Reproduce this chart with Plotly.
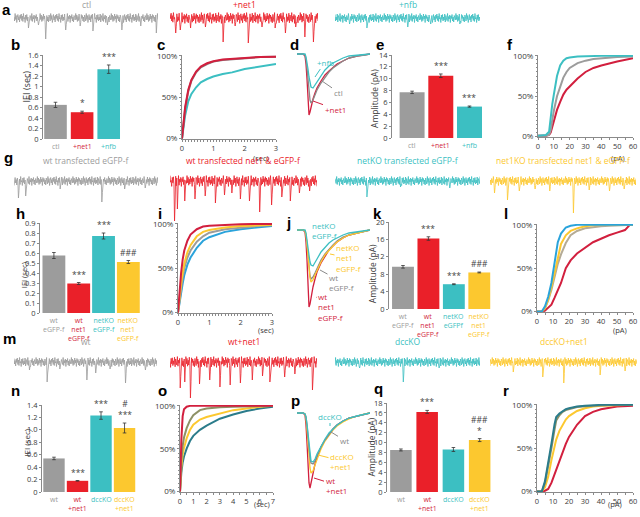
import plotly.graph_objects as go

W, H = 640, 517

GRAY = "#9c9c9c"
RED = "#ea2029"
CRIMSON = "#d21f3e"
TEAL = "#3cbfc2"
YELLOW = "#fcc82f"
BLUE = "#2aa3db"
DKTEAL = "#2b7c8b"
OLIVE = "#8d9166"
TAN = "#b5ab95"
AXC = "#8a8a8a"
TXT = "#3a3a3a"
FONT = "Open Sans"

# ---------------- data ----------------
NOISE = [0.2, -0.6, 0.9, -0.3, 0.5, -0.9, 0.1, 0.7, -0.4, 0.3, -0.8, 0.6, -0.1, 0.8, -0.5, 0.4,
         -0.7, 0.9, -0.2, 0.1, -0.9, 0.6, -0.3, 0.7, -0.6, 0.2, -0.4, 0.8, -0.8, 0.5, 0.0, -0.5,
         0.9, -0.7, 0.3, -0.2, 0.6, -0.9, 0.4, -0.1, 0.7, -0.6, 0.2, -0.8, 0.5, 0.1, -0.4, 0.9,
         -0.3, 0.6, -0.7, 0.3, -0.5, 0.8, -0.2, 0.4, -0.9, 0.7, -0.1, 0.5, -0.6, 0.2, -0.8, 0.6]

# recordings: spike positions (fraction of trace) and depths
A_CTL_POS = [0.10, 0.17, 0.22, 0.36, 0.46, 0.55, 0.65, 0.75, 0.88, 0.99]
A_CTL_DEP = [10, 7, 21, 12, 8, 13, 7, 12, 8, 15]
A_NET_POS = [0.04, 0.07, 0.14, 0.24, 0.36, 0.44, 0.53, 0.62, 0.71, 0.78, 0.85, 0.91, 0.97]
A_NET_DEP = [15, 12, 10, 9, 24, 8, 25, 9, 10, 15, 9, 19, 24]
A_NFB_POS = [0.10, 0.22, 0.50, 0.66, 0.86]
A_NFB_DEP = [6, 10, 9, 6, 6]

G_WT_POS = [0.03, 0.08, 0.32, 0.61, 0.77, 0.91]
G_WT_DEP = [17, 15, 8, 21, 8, 7]
G_NET_POS = [0.03, 0.05, 0.10, 0.17, 0.24, 0.31, 0.37, 0.42, 0.48, 0.54, 0.61, 0.69, 0.76, 0.82, 0.88, 0.95]
G_NET_DEP = [40, 28, 20, 18, 15, 22, 14, 12, 18, 20, 31, 24, 16, 20, 12, 10]
G_KO_POS = [0.22, 0.45, 0.79]
G_KO_DEP = [16, 6, 7]
G_KONET_POS = [0.03, 0.12, 0.20, 0.31, 0.41, 0.57, 0.68, 0.82, 0.92]
G_KONET_DEP = [12, 19, 10, 8, 10, 32, 9, 10, 8]

M_WT_POS = [0.11, 0.23, 0.32, 0.51, 0.57, 0.67, 0.78, 0.92]
M_WT_DEP = [8, 20, 7, 18, 11, 7, 21, 8]
M_NET_POS = [0.07, 0.10, 0.14, 0.20, 0.27, 0.34, 0.41, 0.48, 0.56, 0.63, 0.68, 0.78, 0.85, 0.97]
M_NET_DEP = [26, 20, 36, 22, 18, 25, 23, 21, 18, 14, 20, 15, 12, 28]
M_DCC_POS = [0.17, 0.47, 0.72]
M_DCC_DEP = [6, 20, 6]
M_DCCNET_POS = [0.16, 0.36, 0.50, 0.75, 0.92]
M_DCCNET_DEP = [10, 15, 21, 13, 9]

# bar charts
B_CATS = ["ctl", "+net1", "+nfb"]
B_IEI = [0.65, 0.51, 1.33]
B_ERR = [0.05, 0.02, 0.08]
B_SIG = ["", "*", "***"]
E_AMP = [7.7, 10.5, 5.3]
E_ERR = [0.2, 0.3, 0.1]
E_SIG = ["", "***", "***"]

H_CATS = ["wt<br>eGFP-f", "wt<br>net1<br>eGFP-f", "netKO<br>eGFP-f", "netKO<br>net1<br>eGFP-f"]
H_IEI = [0.575, 0.295, 0.77, 0.51]
H_ERR = [0.03, 0.01, 0.03, 0.015]
H_SIG = ["", "***", "***", "###"]
K_CATS = ["wt<br>eGFP-f", "wt<br>net1<br>eGFP-f", "netKO<br>eGFPf", "netKO<br>net1<br>eGFP-f"]
K_AMP = [9.7, 16.2, 5.7, 8.4]
K_ERR = [0.3, 0.4, 0.1, 0.1]
K_SIG = ["", "***", "***", "###"]

N_CATS = ["wt", "wt<br>+net1", "dccKO", "dccKO<br>+net1"]
N_IEI = [0.54, 0.18, 1.23, 1.03]
N_ERR = [0.02, 0.005, 0.06, 0.08]
N_SIG = ["", "***", "***", "#<br>***"]
Q_AMP = [8.5, 16.2, 8.6, 10.5]
Q_ERR = [0.2, 0.3, 0.4, 0.3]
Q_SIG = ["", "***", "", "###<br>*"]

# cumulative distributions
C_T = [0, 0.05, 0.1, 0.2, 0.3, 0.45, 0.6, 0.8, 1.0, 1.3, 1.6, 2.0, 2.5, 3.0]
C_CTL = [0, 0.2, 0.36, 0.57, 0.7, 0.8, 0.86, 0.9, 0.93, 0.95, 0.96, 0.975, 0.985, 0.99]
C_NET = [0, 0.22, 0.38, 0.59, 0.71, 0.81, 0.87, 0.91, 0.935, 0.955, 0.965, 0.978, 0.987, 0.99]
C_NFB = [0, 0.15, 0.28, 0.45, 0.54, 0.62, 0.68, 0.72, 0.75, 0.78, 0.8, 0.84, 0.87, 0.9]

F_X = [0, 5, 7, 8, 9, 10, 12, 14, 16, 18, 20, 25, 30, 35, 40, 50, 60]
F_CTL = [0.01, 0.01, 0.02, 0.08, 0.2, 0.32, 0.5, 0.63, 0.73, 0.8, 0.85, 0.91, 0.94, 0.96, 0.97, 0.985, 0.99]
F_NET = [0.01, 0.01, 0.02, 0.05, 0.12, 0.2, 0.33, 0.43, 0.52, 0.58, 0.62, 0.72, 0.8, 0.85, 0.88, 0.93, 0.97]
F_NFB = [0.01, 0.02, 0.06, 0.25, 0.4, 0.52, 0.75, 0.88, 0.94, 0.97, 0.98, 0.99, 0.995, 1, 1, 1, 1]

I_T = [0, 0.05, 0.1, 0.15, 0.2, 0.3, 0.4, 0.6, 0.8, 1.0, 1.5, 2.0, 2.5, 3.0]
I_WTNET = [0, 0.25, 0.45, 0.6, 0.7, 0.81, 0.88, 0.94, 0.97, 0.98, 0.99, 0.995, 1.0, 1.0]
I_KONET = [0, 0.18, 0.33, 0.45, 0.55, 0.68, 0.76, 0.86, 0.91, 0.93, 0.96, 0.975, 0.985, 0.99]
I_WT = [0, 0.15, 0.28, 0.4, 0.5, 0.62, 0.7, 0.8, 0.86, 0.9, 0.94, 0.96, 0.975, 0.985]
I_KO = [0, 0.12, 0.23, 0.33, 0.42, 0.54, 0.62, 0.73, 0.81, 0.85, 0.91, 0.94, 0.96, 0.975]

L_X = [0, 3, 5, 7, 9, 11, 13, 15, 18, 21, 25, 30, 35, 40, 45, 50, 55, 58, 60]
L_KO = [0, 0, 0.06, 0.17, 0.33, 0.55, 0.8, 0.9, 0.97, 0.99, 1, 1, 1, 1, 1, 1, 1, 1, 1]
L_KONET = [0, 0, 0.04, 0.14, 0.28, 0.45, 0.63, 0.78, 0.88, 0.93, 0.96, 0.985, 0.995, 1, 1, 1, 1, 1, 1]
L_WT = [0, 0, 0.04, 0.13, 0.25, 0.4, 0.55, 0.66, 0.79, 0.88, 0.93, 0.96, 0.975, 0.985, 0.99, 0.995, 1, 1, 1]
L_WTNET = [0, 0, 0.01, 0.04, 0.08, 0.16, 0.25, 0.33, 0.5, 0.59, 0.67, 0.74, 0.8, 0.84, 0.88, 0.91, 0.94, 1.0, 1.0]

O_T = [0, 0.05, 0.1, 0.2, 0.3, 0.5, 0.75, 1.0, 1.5, 2.0, 2.5, 3.0, 4.0, 5.0, 6.0, 7.0]
O_WTNET = [0, 0.35, 0.6, 0.88, 0.96, 0.99, 1, 1, 1, 1, 1, 1, 1, 1, 1, 1]
O_WT = [0, 0.2, 0.36, 0.53, 0.63, 0.74, 0.83, 0.89, 0.95, 0.97, 0.98, 0.985, 0.99, 0.995, 1, 1]
O_DCCNET = [0, 0.16, 0.28, 0.43, 0.51, 0.62, 0.72, 0.78, 0.84, 0.87, 0.89, 0.91, 0.95, 0.97, 0.99, 1]
O_DCC = [0, 0.12, 0.22, 0.34, 0.41, 0.5, 0.59, 0.65, 0.72, 0.77, 0.81, 0.85, 0.9, 0.94, 0.97, 0.99]

R_X = [0, 3, 5, 7, 9, 11, 12, 14, 16, 18, 20, 25, 30, 35, 40, 50, 60]
R_DCC = [0, 0, 0.12, 0.32, 0.55, 0.78, 0.86, 0.9, 0.93, 0.95, 0.96, 0.98, 0.99, 0.995, 1, 1, 1]
R_WT = [0, 0, 0.1, 0.28, 0.5, 0.72, 0.82, 0.88, 0.92, 0.94, 0.95, 0.975, 0.985, 0.99, 0.995, 1, 1]
R_DCCNET = [0, 0, 0.05, 0.17, 0.36, 0.53, 0.6, 0.7, 0.77, 0.83, 0.87, 0.93, 0.96, 0.98, 0.99, 0.995, 1]
R_WTNET = [0, 0, 0.01, 0.03, 0.1, 0.2, 0.25, 0.36, 0.46, 0.55, 0.63, 0.77, 0.87, 0.92, 0.95, 0.98, 0.99]

# averaged events (time in 0.5 ms steps, amplitude)
WAVE_T = [0, 3, 4, 4.5, 5, 5.5, 6, 6.5, 7, 8, 9, 10, 12, 14, 16, 18, 20, 23, 26, 30, 34, 36.5]
D_NET = [0, 0, -2, -10, -25, -45, -61, -58, -53, -45, -39, -34, -27, -21, -17, -13, -10, -7, -4, -2, -1, 0]
D_CTL = [0, 0, -1, -5, -14, -26, -38, -46, -49, -46, -41, -36, -29, -23, -18, -14, -11, -7, -4, -2, -1, 0]
D_NFB = [0, 0, 0, -3, -8, -15, -23, -30, -33, -34, -31, -27, -21, -16, -12, -9, -7, -4, -2, -1, 0, 0]
J_WTNET = [0, 0, -2, -12, -30, -55, -77, -74, -67, -57, -49, -42, -33, -26, -20, -16, -12, -8, -5, -3, -1, 0]
J_KONET = [0, 0, -1, -5, -15, -28, -40, -48, -52, -50, -45, -40, -32, -25, -20, -16, -12, -8, -5, -3, -1, 0]
J_WT = [0, 0, -1, -5, -14, -27, -38, -46, -49, -47, -43, -38, -30, -24, -19, -15, -11, -7, -5, -3, -1, 0]
J_KO = [0, 0, 0, -3, -9, -17, -25, -32, -35, -36, -33, -29, -22, -17, -13, -10, -8, -5, -3, -2, -1, 0]
P_WTNET = [0, 0, -2, -12, -30, -52, -70, -75, -70, -60, -51, -44, -34, -27, -21, -16, -12, -8, -5, -3, -1, 0]
P_DCCNET = [0, 0, -1, -6, -17, -32, -45, -55, -60, -58, -52, -46, -36, -28, -22, -17, -13, -9, -6, -3, -1, 0]
P_WT = [0, 0, -1, -4, -12, -24, -35, -45, -50, -51, -48, -43, -34, -27, -21, -16, -12, -8, -5, -3, -1, 0]
P_DCC = [0, 0, -1, -4, -11, -22, -33, -43, -48, -49, -46, -41, -33, -26, -20, -16, -12, -8, -5, -3, -1, 0]

# ---------------- figure helpers ----------------
layout = dict(template="none", width=W, height=H, margin=dict(l=0, r=0, t=0, b=0, pad=0),
              paper_bgcolor="white", plot_bgcolor="white", showlegend=False,
              font=dict(family=FONT, color=TXT))
ann = []
data = []
cnt = [0]


def axes(left, right, top, bottom, xr, yr):
    cnt[0] += 1
    s = "" if cnt[0] == 1 else str(cnt[0])
    layout["xaxis" + s] = dict(domain=[max(0, left / W), min(1, right / W)], range=xr,
                               anchor="y" + s, visible=False, fixedrange=True, automargin=False)
    layout["yaxis" + s] = dict(domain=[max(0, 1 - bottom / H), min(1, 1 - top / H)], range=yr,
                               anchor="x" + s, visible=False, fixedrange=True, automargin=False)
    return s


def letter(t, x, y):
    ann.append(dict(text="<b>%s</b>" % t, x=x / W, y=1 - y / H, xref="paper", yref="paper",
                    showarrow=False, font=dict(family="Liberation Sans", size=15, color="black"),
                    xanchor="center", yanchor="middle"))


def recording(x0, x1, yc, yr, pos, dep, amp, offset, color, label, label_y, n=260):
    s = axes(x0, x1, yc - yr[1], yc - yr[0], [0, n - 1], yr)
    ys = [amp * NOISE[(i + offset) % len(NOISE)] for i in range(n)]
    for p, d in zip(pos, dep):
        k = int(round(p * (n - 1)))
        ys[k] = -d
        if k + 1 < n:
            ys[k + 1] = -0.55 * d
    data.append(go.Scatter(x=list(range(n)), y=ys, mode="lines", line=dict(color=color, width=0.8),
                           xaxis="x" + s, yaxis="y" + s, hoverinfo="skip"))
    ann.append(dict(text=label, x=0.5, xref="x%s domain" % s, y=1 - label_y / H, yref="paper",
                    showarrow=False, font=dict(size=8.5, color=color), yanchor="middle"))


def bar_panel(box, xr, yr, vals, errs, colors, labcolors, cats, sigs, tickvals, ticktext,
              bw, ylabel, ylab_x, ylab_frac, ylab_size):
    s = axes(*box, xr, yr)
    xs = list(range(len(vals)))
    data.append(go.Bar(x=xs, y=vals, width=bw, marker=dict(color=colors, line=dict(width=0)),
                       error_y=dict(type="data", array=errs, color="#333333", thickness=0.8, width=1.8),
                       xaxis="x" + s, yaxis="y" + s, hoverinfo="skip"))
    layout["yaxis" + s].update(visible=True, showline=True, linecolor=AXC, linewidth=1,
                               ticks="outside", ticklen=2, tickcolor=AXC, showgrid=False,
                               zeroline=False, tickmode="array", tickvals=tickvals, ticktext=ticktext,
                               tickfont=dict(size=7.5, color=TXT))
    for i in xs:
        if sigs[i]:
            ann.append(dict(text=sigs[i], x=i, y=vals[i] + errs[i], xref="x" + s, yref="y" + s,
                            yanchor="bottom", yshift=1, showarrow=False,
                            font=dict(size=8.5, color="#444444")))
        ann.append(dict(text=cats[i], x=i, y=0, xref="x" + s, yref="y" + s, yanchor="top",
                        yshift=-1, showarrow=False, font=dict(size=7, color=labcolors[i])))
    ann.append(dict(text=ylabel, x=ylab_x / W, y=ylab_frac, xref="paper", yref="y%s domain" % s,
                    textangle=-90, showarrow=False, font=dict(size=ylab_size, color=TXT)))


def cdf_panel(box, xr, xdtick, xminor, curves, unit, unit_xy):
    s = axes(*box, xr, [-0.005, 1.01])
    for xv, yv, col in curves:
        data.append(go.Scatter(x=xv, y=yv, mode="lines", line=dict(color=col, width=2),
                               xaxis="x" + s, yaxis="y" + s, hoverinfo="skip"))
    layout["xaxis" + s].update(visible=True, showline=True, linecolor=AXC, linewidth=1,
                               ticks="outside", ticklen=1.5, tickcolor=AXC, tick0=0, dtick=xdtick,
                               showgrid=False, zeroline=False, tickfont=dict(size=7.5, color=TXT),
                               minor=dict(dtick=xminor, ticks="outside", ticklen=1.5, tickcolor=AXC))
    layout["yaxis" + s].update(visible=True, showline=True, linecolor=AXC, linewidth=1,
                               ticks="outside", ticklen=2, tickcolor=AXC, tick0=0, dtick=0.5,
                               tickformat=".0%", showgrid=False, zeroline=False,
                               tickfont=dict(size=8, color=TXT),
                               minor=dict(dtick=0.05, ticks="outside", ticklen=1.5, tickcolor=AXC))
    ann.append(dict(text=unit, x=unit_xy[0] / W, y=1 - unit_xy[1] / H, xref="paper", yref="paper",
                    showarrow=False, font=dict(size=7.5, color=TXT)))


def wave_panel(box, yr, curves, labels):
    s = axes(*box, [0, 36.5], yr)
    for yv, col in curves:
        data.append(go.Scatter(x=WAVE_T, y=yv, mode="lines", line=dict(color=col, width=1.3),
                               xaxis="x" + s, yaxis="y" + s, hoverinfo="skip"))
    for text, col, tx, ty, ax, ay in labels:
        ann.append(dict(text=text, x=tx, y=ty, xref="x" + s, yref="y" + s, ax=ax, ay=ay,
                        showarrow=True, arrowhead=0, arrowwidth=1, arrowcolor=col, standoff=0,
                        align="left", font=dict(size=8, color=col)))


# ---------------- row 1 ----------------
letter("a", 6, 9)
recording(14, 158, 18, [-27, 10], A_CTL_POS, A_CTL_DEP, 5, 0, GRAY, "ctl", 5)
recording(170, 318, 18, [-27, 10], A_NET_POS, A_NET_DEP, 6, 11, RED, "+net1", 5)
recording(335, 480, 18, [-27, 10], A_NFB_POS, A_NFB_DEP, 5, 23, TEAL, "+nfb", 5)

for t, x in zip("bcdef", [15, 161, 294, 380, 510]):
    letter(t, x, 44)

bar_panel((43, 122, 55, 139), [-0.47, 2.5], [0, 1.6], B_IEI, B_ERR, [GRAY, RED, TEAL],
          [GRAY, CRIMSON, TEAL], B_CATS, B_SIG,
          [0, 0.2, 0.4, 0.6, 0.8, 1.0, 1.2, 1.4, 1.6], ["0", "0.2", "0.4", "0.6", "0.8", "1", "1.2", "1.4", "1.6"],
          0.85, "IEI (sec)", 18, 0.62, 9)
cdf_panel((182, 276, 55, 139), [0, 3], 1, 0.1,
          [(C_T, C_NFB, TEAL), (C_T, C_CTL, "#8c7a7e"), (C_T, C_NET, CRIMSON)], "(sec)", (261, 151))
wave_panel((297, 370, 49, 120), [-66, 5],
           [(D_NET, CRIMSON), (D_CTL, "#8a8a8a"), (D_NFB, TEAL)],
           [("+nfb", TEAL, 9, -23, 10, -15), ("ctl", "#8a8a8a", 12.5, -27, 16, 11),
            ("+net1", CRIMSON, 8, -47, 22, 8)])
bar_panel((392, 487, 55, 138), [-0.7, 2.61], [0, 14], E_AMP, E_ERR, [GRAY, RED, TEAL],
          [GRAY, CRIMSON, TEAL], B_CATS, E_SIG,
          list(range(0, 15, 2)), [str(v) for v in range(0, 15, 2)],
          0.87, "Amplitude (pA)", 375, 0.47, 8.5)
cdf_panel((538, 633, 55, 137), [0, 60], 10, 5,
          [(F_X, F_NET, CRIMSON), (F_X, F_CTL, GRAY), (F_X, F_NFB, TEAL)], "(pA)", (627, 151))

# ---------------- row 2 ----------------
letter("g", 8, 157)
recording(14, 158, 181, [-34, 10], G_WT_POS, G_WT_DEP, 5, 5, GRAY, "wt transfected eGFP-f", 161)
recording(170, 317, 181, [-43, 10], G_NET_POS, G_NET_DEP, 6, 17, RED, "wt transfected net1 &amp; eGFP-f", 161)
recording(335, 480, 181, [-34, 10], G_KO_POS, G_KO_DEP, 5, 29, TEAL, "netKO transfected eGFP-f", 161)
recording(490, 636, 181, [-34, 10], G_KONET_POS, G_KONET_DEP, 5, 41, YELLOW, "net1KO transfected net1 &amp; eGFP-f", 161)

for t, x, y in zip("hijkl", [20, 160, 288, 377, 506], [213, 213, 222, 213, 213]):
    letter(t, x, y)

bar_panel((40, 142, 223, 313), [-0.56, 3.55], [0, 0.9], H_IEI, H_ERR, [GRAY, RED, TEAL, YELLOW],
          [GRAY, CRIMSON, TEAL, YELLOW], H_CATS, H_SIG,
          [0, 0.1, 0.2, 0.3, 0.4, 0.5, 0.6, 0.7, 0.8, 0.9], ["0", "0.1", "0.2", "0.3", "0.4", "0.5", "0.6", "0.7", "0.8", "0.9"],
          0.92, "IEI (sec)", 17, 0.42, 7.5)
cdf_panel((178, 272, 223, 313), [0, 3], 1, 0.1,
          [(I_T, I_KO, BLUE), (I_T, I_WT, GRAY), (I_T, I_KONET, YELLOW), (I_T, I_WTNET, CRIMSON)],
          "(sec)", (266, 330))
wave_panel((297, 370, 225, 312), [-82, 5],
           [(J_WTNET, CRIMSON), (J_WT, "#8a8a8a"), (J_KONET, YELLOW), (J_KO, TEAL)],
           [("netKO<br>eGFP-f", TEAL, 19, -12, -10, -12), ("netKO<br>net1<br>eGFP-f", YELLOW, 16.5, -24, 19, 4),
            ("wt<br>eGFP-f", "#8a8a8a", 11.5, -40, 22, 12), ("wt<br>net1<br>eGFP-f", CRIMSON, 9.5, -67, 15, 10)])
bar_panel((389, 492, 222, 309), [-0.55, 3.5], [0, 20], K_AMP, K_ERR, [GRAY, RED, TEAL, YELLOW],
          [GRAY, CRIMSON, TEAL, YELLOW], K_CATS, K_SIG,
          [0, 4, 8, 12, 16, 20], ["0", "4", "8", "12", "16", "20"],
          0.86, "Amplitude (pA)", 372, 0.4, 8.5)
cdf_panel((537, 633, 224, 312), [0, 60], 10, 5,
          [(L_X, L_WTNET, CRIMSON), (L_X, L_WT, TAN), (L_X, L_KONET, YELLOW), (L_X, L_KO, BLUE)],
          "(pA)", (629, 330))

# ---------------- row 3 ----------------
letter("m", 9, 338)
recording(14, 157, 362, [-38, 10], M_WT_POS, M_WT_DEP, 5, 7, GRAY, "wt", 341)
recording(170, 317, 362, [-38, 10], M_NET_POS, M_NET_DEP, 6, 19, RED, "wt+net1", 341)
recording(335, 480, 362, [-38, 10], M_DCC_POS, M_DCC_DEP, 5, 31, TEAL, "dccKO", 341)
recording(490, 637, 362, [-38, 10], M_DCCNET_POS, M_DCCNET_DEP, 5, 43, YELLOW, "dccKO+net1", 341)

for t, x, y in zip("nopqr", [15, 162, 295, 378, 506], [390, 390, 400, 388, 390]):
    letter(t, x, y)

bar_panel((42, 137, 405, 492), [-0.51, 3.53], [0, 1.4], N_IEI, N_ERR, [GRAY, RED, TEAL, YELLOW],
          [GRAY, CRIMSON, TEAL, YELLOW], N_CATS, N_SIG,
          [0, 0.2, 0.4, 0.6, 0.8, 1.0, 1.2, 1.4], ["0", "0.2", "0.4", "0.6", "0.8", "1.0", "1.2", "1.4"],
          0.91, "IEI (sec)", 19, 0.56, 8)
cdf_panel((180, 273, 405, 492), [0, 7], 1, 0.5,
          [(O_T, O_DCC, DKTEAL), (O_T, O_DCCNET, YELLOW), (O_T, O_WT, OLIVE), (O_T, O_WTNET, CRIMSON)],
          "(sec)", (262, 511))
wave_panel((297, 370, 408, 493), [-80, 5],
           [(P_WTNET, CRIMSON), (P_DCCNET, YELLOW), (P_WT, "#8a8a8a"), (P_DCC, TEAL)],
           [("dccKO", TEAL, 16.5, -13, 0, -10), ("wt", "#8a8a8a", 17, -19, 13, 8),
            ("dccKO<br>+net1", YELLOW, 10.5, -42, 24, 6), ("wt<br>+net1", CRIMSON, 8.5, -65, 22, 7)])
bar_panel((387, 492, 403, 492), [-0.53, 3.47], [0, 18], Q_AMP, Q_ERR, [GRAY, RED, TEAL, YELLOW],
          [GRAY, CRIMSON, TEAL, YELLOW], N_CATS, Q_SIG,
          list(range(0, 19, 2)), [str(v) for v in range(0, 19, 2)],
          0.82, "Amplitude (pA)", 371, 0.5, 8.5)
cdf_panel((537, 633, 404, 492), [0, 60], 10, 5,
          [(R_X, R_WTNET, CRIMSON), (R_X, R_DCCNET, YELLOW), (R_X, R_WT, OLIVE), (R_X, R_DCC, DKTEAL)],
          "(pA)", (624, 511))

layout["annotations"] = ann
fig = go.Figure(data=data, layout=layout)
fig.write_html("out.html", config={"displayModeBar": False, "staticPlot": True},
               post_script="document.body.style.margin='0px';document.body.style.overflow='hidden';")
